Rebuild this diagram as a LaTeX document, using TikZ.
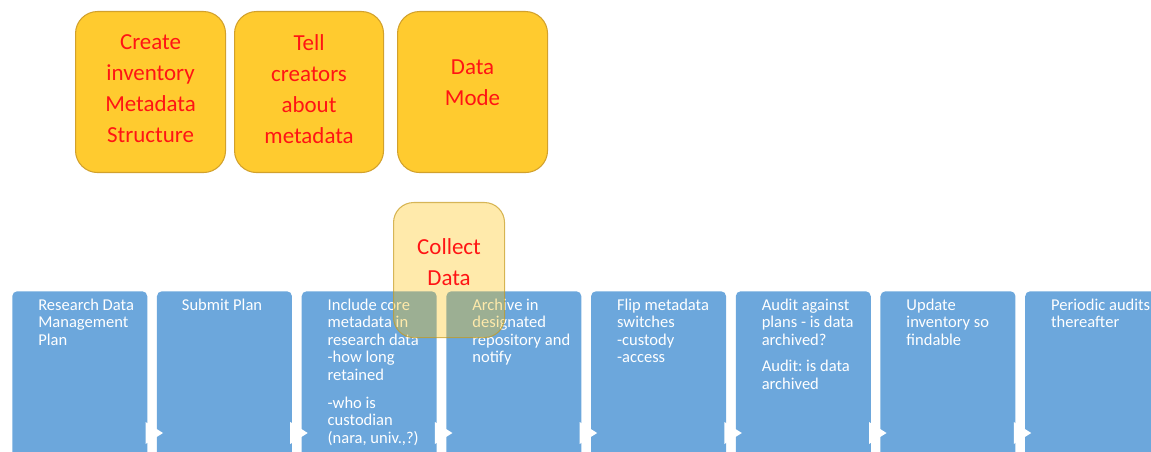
\documentclass[tikz,border=0pt]{standalone}
\usepackage{fontspec}
\setmainfont{Carlito}
\frenchspacing
\usetikzlibrary{calc}
\definecolor{stepblue}{HTML}{6CA7DC}
\definecolor{taskgold}{HTML}{FFCB2F}
\definecolor{taskedge}{HTML}{D2A12C}
\definecolor{taskred}{HTML}{FF1414}
\definecolor{collectfill}{HTML}{FFC000}
\definecolor{collectedge}{HTML}{C59A1E}
% one drawing unit is 0.75pt; box sizes below are given in pt
\tikzset{
  stepbox/.style={draw=none, fill=stepblue, rounded corners=3.75pt, anchor=north west,
    minimum width=101.25pt, minimum height=165pt, inner sep=0},
  steptext/.style={anchor=north west, inner sep=0, align=left, text=white,
    font=\fontsize{12.4}{13.1}\selectfont},
  taskbox/.style={draw=taskedge, line width=0.8pt, fill=taskgold, rounded corners=16.5pt,
    anchor=north west, inner sep=0},
  tasktext/.style={inner sep=0, align=center, text=taskred,
    font=\fontsize{17.2}{23.25}\selectfont},
  collectbox/.style={draw=collectedge, draw opacity=0.7, line width=0.8pt,
    fill=collectfill, fill opacity=0.33, rounded corners=15pt, anchor=north west, inner sep=0},
  flowtip/.style={fill=white}
}
\begin{document}
\begin{tikzpicture}[x=0.75pt,y=-0.75pt]
\useasboundingbox (0,0) rectangle (1151,452);
\clip (0,0) rectangle (1151,452);

% planning tasks
\node[taskbox, minimum width=112.5pt, minimum height=120.75pt] (ba) at (75,11) {};
\node[taskbox, minimum width=111.75pt, minimum height=120.75pt] (bb) at (234,11) {};
\node[taskbox, minimum width=112.5pt, minimum height=120.75pt] (bc) at (397,11) {};
\node[tasktext] (ta) at ($(ba.center)+(0,-3)$) {Create\\inventory\\Metadata\\Structure};
\node[tasktext] (tb) at ($(bb.center)+(0,-3)$) {Tell\\creators\\about\\metadata};
\node[tasktext] (tc) at ($(bc.center)+(0,-9.5)$) {Data\\Mode};

% process steps
\node[stepbox] (s1) at (12,291) {};
\node[stepbox] (s2) at (156.7,291) {};
\node[stepbox] (s3) at (301.4,291) {};
\node[stepbox] (s4) at (446.1,291) {};
\node[stepbox] (s5) at (590.8,291) {};
\node[stepbox] (s6) at (735.5,291) {};
\node[stepbox] (s7) at (880.2,291) {};
\node[stepbox] (s8) at (1024.9,291) {};

% arrow tips joining consecutive steps
\foreach \i in {1,...,7}{
  \fill[flowtip] ($(s\i.north east)+(-2,131)$) -- ++(17.5,11) -- ++(-17.5,11) -- cycle;
}

\node[steptext] (l1) at ($(s1.north west)+(26,7.5)$) {Research Data\\Management\\Plan};
\node[steptext] (l2) at ($(s2.north west)+(25,7.5)$) {Submit Plan};
\node[steptext] (l3) at ($(s3.north west)+(26,7.5)$) {Include core\\metadata in\\research data\\-how long\\retained\\[8pt]-who is\\custodian\\(nara, univ.,?)};
\node[steptext] (l4) at ($(s4.north west)+(26,7.5)$) {Archive in\\designated\\repository and\\notify};
\node[steptext] (l5) at ($(s5.north west)+(26,7.5)$) {Flip metadata\\switches\\-custody\\-access};
\node[steptext] (l6) at ($(s6.north west)+(26,7.5)$) {Audit against\\plans - is data\\archived?\\[7pt]Audit: is data\\archived};
\node[steptext] (l7) at ($(s7.north west)+(26,7.5)$) {Update\\inventory so\\findable};
\node[steptext] (l8) at ($(s8.north west)+(26,7.5)$) {Periodic audits\\thereafter};

% collection overlay
\node[collectbox, minimum width=83.25pt, minimum height=101.25pt] (bd) at (393,202) {};
\node[tasktext] (td) at ($(bd.center)+(0,-7.5)$) {Collect\\Data};
\end{tikzpicture}
\end{document}
